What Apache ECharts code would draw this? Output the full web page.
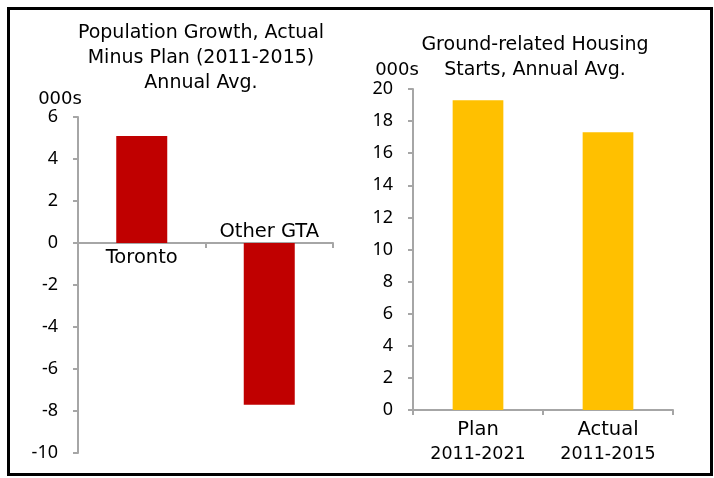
<!DOCTYPE html>
<html><head><meta charset="utf-8">
<script src="https://cdn.jsdelivr.net/npm/echarts@6/dist/echarts.min.js"></script>
<style>html,body{margin:0;padding:0;background:#fff}#c{width:714px;height:478px}</style>
</head><body><div id="c"></div>
<script>
const popCategories = ['Toronto', 'Other GTA'];
const popValues = [5.1, -7.7];
const housingCategories = ['Plan\n2011-2021', 'Actual\n2011-2015'];
const housingValues = [19.3, 17.3];
const leftTitle = 'Population Growth, Actual\nMinus Plan (2011-2015)\nAnnual Avg.';
const rightTitle = 'Ground-related Housing\nStarts, Annual Avg.';
const unitName = '000s';

const FONT = 'DejaVu Sans';
const NUMFONT = 'Noto Sans';
const axisGray = '#A6A6A6';
const chart = echarts.init(document.getElementById('c'), null, {renderer: 'canvas'});
const num = {color: '#000', fontFamily: NUMFONT, fontSize: 18};
const unitStyle = {color: '#000', fontFamily: FONT, fontSize: 18};
const titleStyle = {color: '#000', fontFamily: FONT, fontSize: 19, fontWeight: 'normal', lineHeight: 25};

const popData = popValues.map((v, i) => ({
  value: v,
  label: {show: true, formatter: popCategories[i], position: v >= 0 ? 'bottom' : 'top',
          distance: v >= 0 ? 5 : 1, color: '#000', fontFamily: FONT, fontSize: 19.5}
}));

chart.setOption({
  animation: false,
  backgroundColor: '#fff',
  title: [
    {text: leftTitle, left: 201, top: 21, padding: 0, textAlign: 'center', textStyle: titleStyle},
    {text: rightTitle, left: 535, top: 33, padding: 0, textAlign: 'center', textStyle: titleStyle}
  ],
  graphic: [{type: 'rect', shape: {x: 8.5, y: 8.5, width: 703, height: 466}, silent: true,
    style: {fill: null, stroke: '#000', lineWidth: 3}}],
  grid: [
    {left: 78, top: 117, width: 255, height: 336, containLabel: false},
    {left: 413, top: 89, width: 260, height: 321, containLabel: false}
  ],
  xAxis: [
    {type: 'category', gridIndex: 0, data: popCategories,
     axisLine: {onZero: true, lineStyle: {color: axisGray, width: 2}},
     axisTick: {show: true, length: 5, lineStyle: {color: axisGray, width: 2}},
     axisLabel: {show: false}},
    {type: 'category', gridIndex: 1, data: housingCategories,
     axisLine: {lineStyle: {color: axisGray, width: 2}},
     axisTick: {show: true, length: 5, lineStyle: {color: axisGray, width: 2}},
     axisLabel: {margin: 8, color: '#000',
       formatter: v => { const p = v.split('\n'); return '{a|' + p[0] + '}\n{b|' + p[1] + '}'; },
       rich: {a: {fontFamily: FONT, fontSize: 19.5, lineHeight: 24, color: '#000'},
              b: {fontFamily: FONT, fontSize: 17.5, lineHeight: 24, color: '#000'}}}}
  ],
  yAxis: [
    {type: 'value', gridIndex: 0, min: -10, max: 6, interval: 2,
     name: unitName, nameLocation: 'end', nameGap: 8,
     nameTextStyle: Object.assign({}, unitStyle, {align: 'center', padding: [0, 36, 0, 0]}),
     splitLine: {show: false},
     axisLine: {show: true, lineStyle: {color: axisGray, width: 2}},
     axisTick: {show: true, length: 5, lineStyle: {color: axisGray, width: 2}},
     axisLabel: Object.assign({}, num, {margin: 20})},
    {type: 'value', gridIndex: 1, min: 0, max: 20, interval: 2,
     name: unitName, nameLocation: 'end', nameGap: 10,
     nameTextStyle: Object.assign({}, unitStyle, {align: 'center', padding: [0, 32, 0, 0]}),
     splitLine: {show: false},
     axisLine: {show: true, lineStyle: {color: axisGray, width: 2}},
     axisTick: {show: true, length: 5, lineStyle: {color: axisGray, width: 2}},
     axisLabel: Object.assign({}, num, {margin: 20})}
  ],
  series: [
    {type: 'bar', xAxisIndex: 0, yAxisIndex: 0, data: popData, barWidth: '40%',
     itemStyle: {color: '#C00000'}},
    {type: 'bar', xAxisIndex: 1, yAxisIndex: 1, data: housingValues, barWidth: '39%',
     itemStyle: {color: '#FFC000'}}
  ]
});
</script></body></html>
